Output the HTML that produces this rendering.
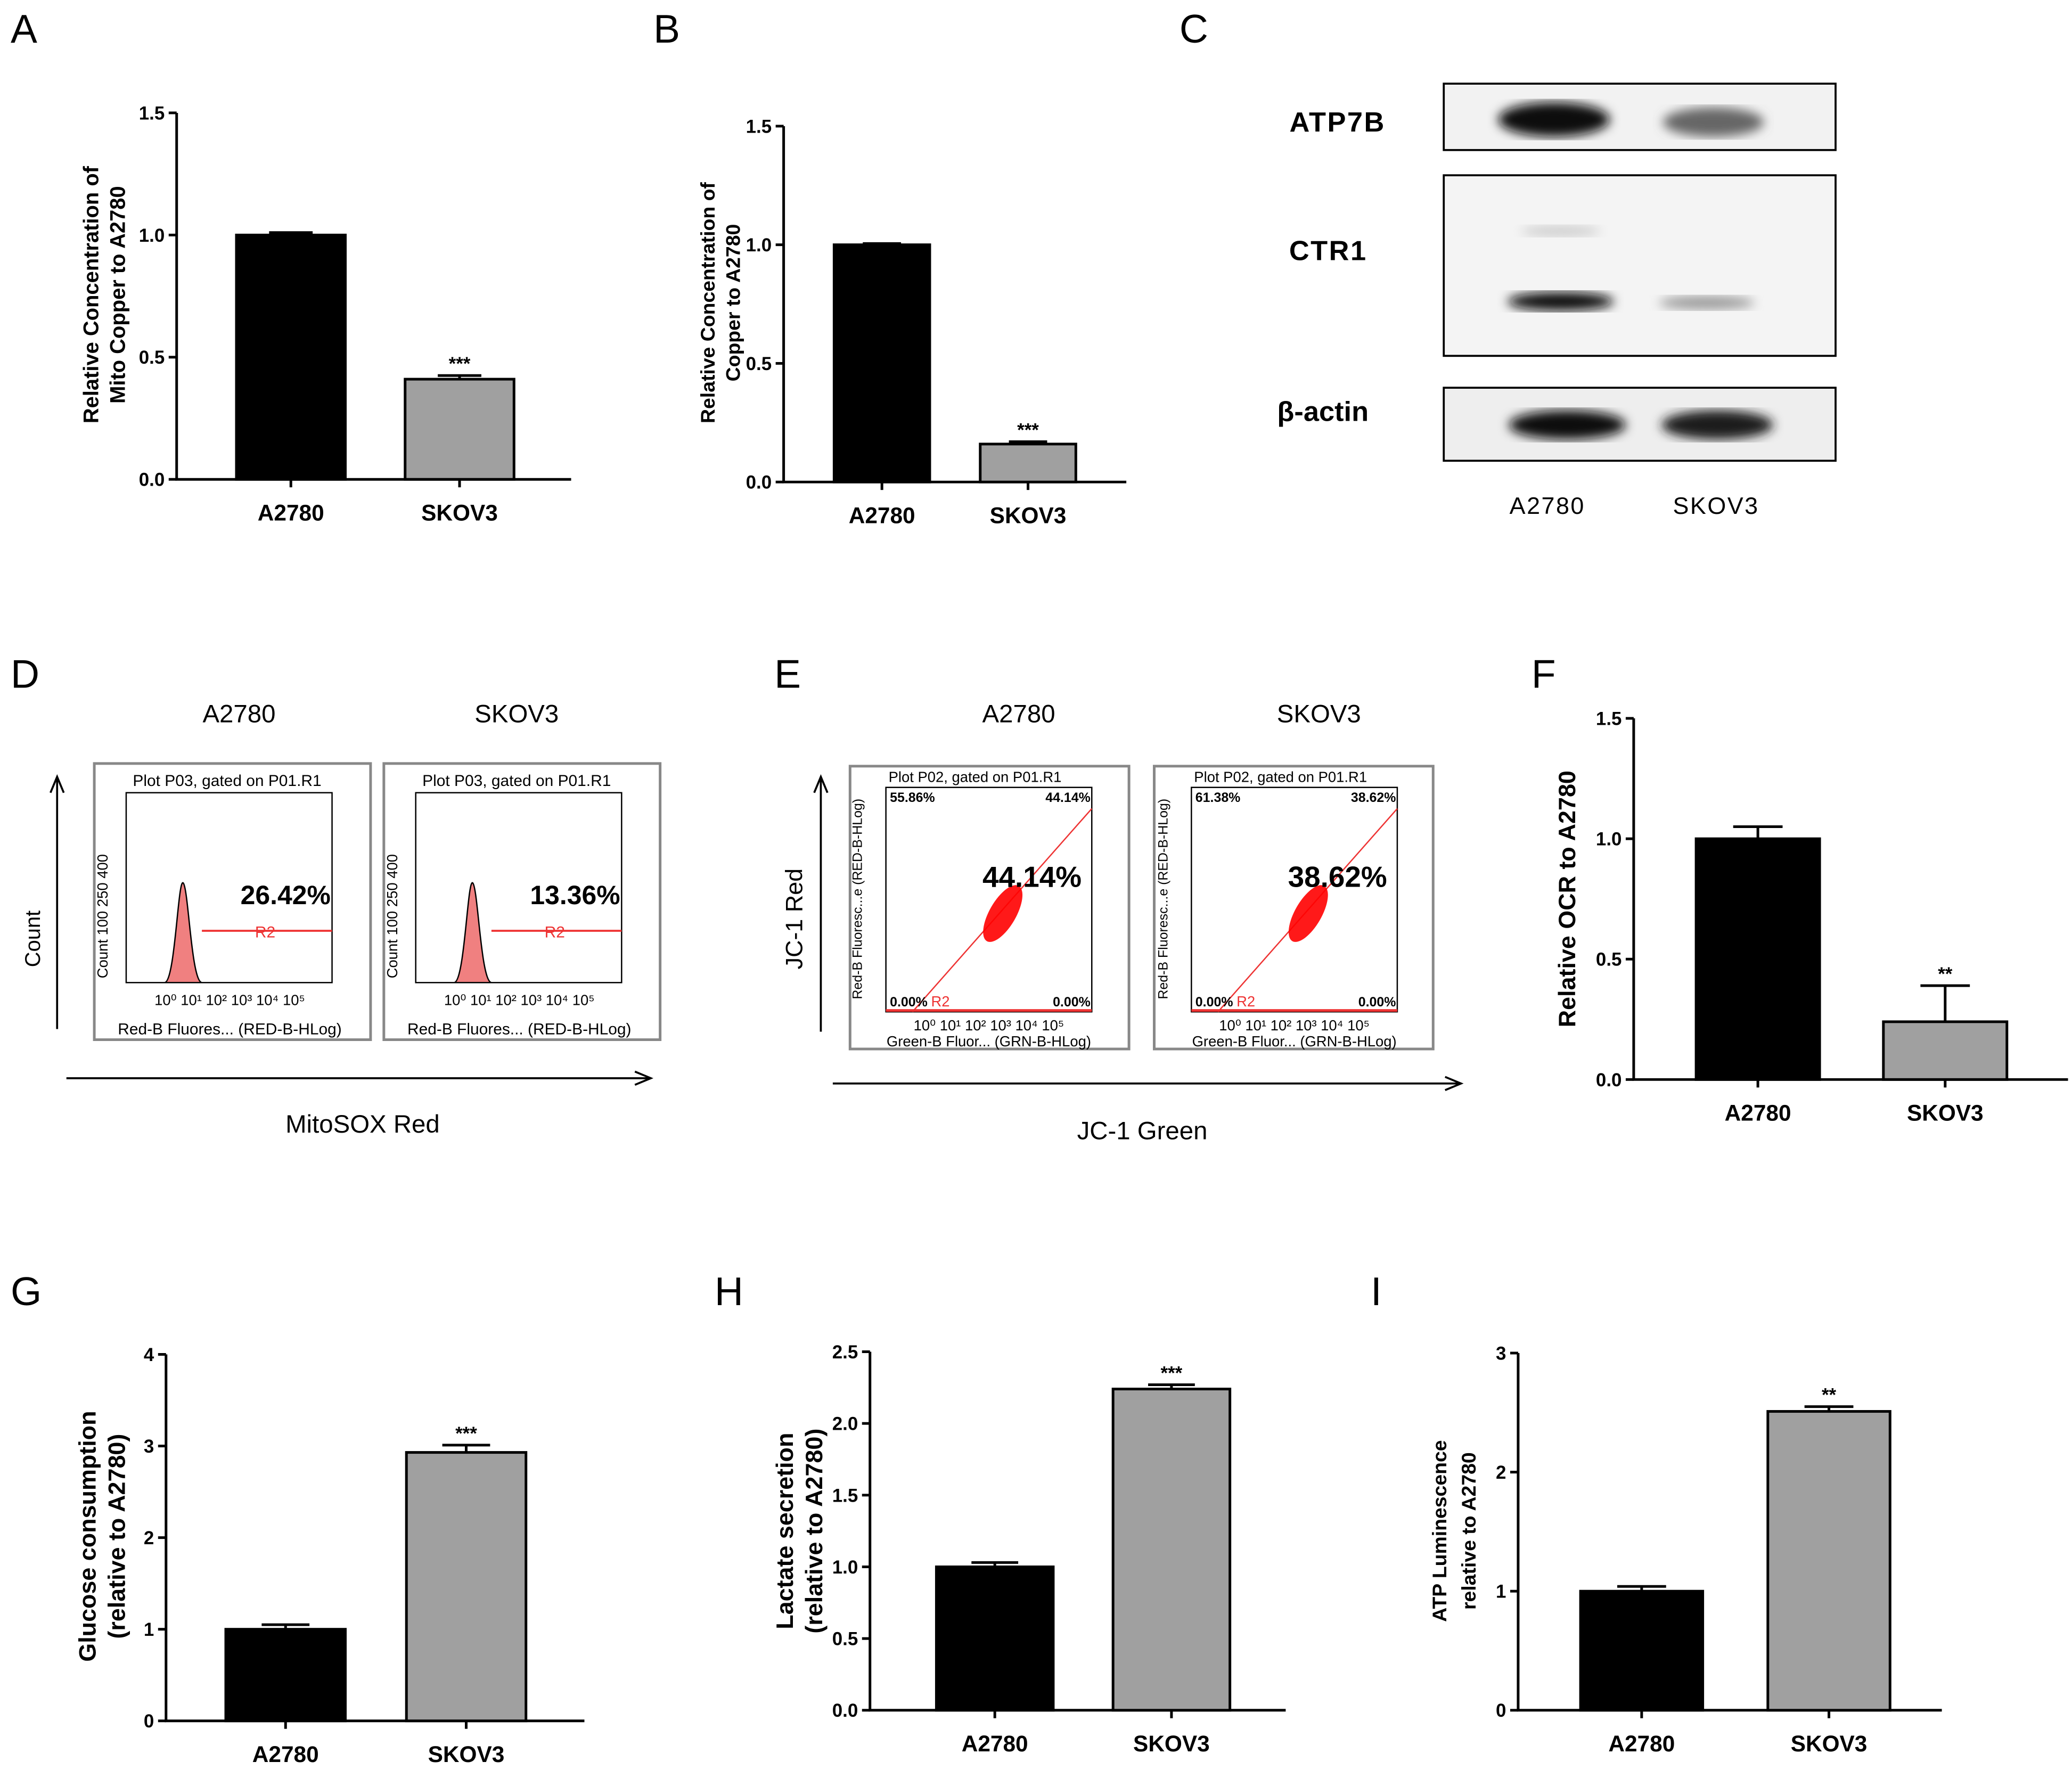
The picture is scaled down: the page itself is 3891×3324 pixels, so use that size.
<!DOCTYPE html>
<html><head><meta charset="utf-8"><style>
html,body{margin:0;padding:0;background:#fff}
svg{display:block}
text{font-family:"Liberation Sans",sans-serif}
</style></head><body>
<svg id="fig" xmlns="http://www.w3.org/2000/svg" width="3891" height="3324" viewBox="0 0 1560 1333" preserveAspectRatio="none">
<g font-size="30" font-family="Liberation Sans">
<text x="8" y="32">A</text>
<text x="492" y="32">B</text>
<text x="888" y="32">C</text>
<text x="8" y="518">D</text>
<text x="583" y="518">E</text>
<text x="1153" y="518">F</text>
<text x="8" y="983">G</text>
<text x="538" y="983">H</text>
<text x="1032" y="983">I</text>
</g>
<!-- Western blot C -->
<g>
<defs>
<filter id="blur"><feGaussianBlur stdDeviation="4"/></filter>
</defs>
<rect x="1087" y="63" width="295" height="50" fill="#f2f2f2" stroke="#000" stroke-width="1.5"/>
<ellipse cx="1170" cy="90" rx="42" ry="13" fill="#111" filter="url(#blur)"/>
<ellipse cx="1290" cy="92" rx="38" ry="11" fill="#666" filter="url(#blur)"/>
<rect x="1087" y="132" width="295" height="136" fill="#f4f4f4" stroke="#000" stroke-width="1.5"/>
<ellipse cx="1175" cy="227" rx="40" ry="7" fill="#111" filter="url(#blur)"/>
<ellipse cx="1285" cy="228" rx="36" ry="5" fill="#999" filter="url(#blur)"/>
<ellipse cx="1175" cy="174" rx="30" ry="4" fill="#ccc" filter="url(#blur)"/>
<rect x="1087" y="292" width="295" height="55" fill="#eee" stroke="#000" stroke-width="1.5"/>
<ellipse cx="1180" cy="320" rx="44" ry="11" fill="#111" filter="url(#blur)"/>
<ellipse cx="1293" cy="320" rx="42" ry="11" fill="#1a1a1a" filter="url(#blur)"/>
<text x="1007" y="99" font-size="21" text-anchor="middle" font-weight="bold" letter-spacing="1">ATP7B</text>
<text x="1000" y="196" font-size="21" text-anchor="middle" font-weight="bold" letter-spacing="1">CTR1</text>
<text x="996" y="317" font-size="21" text-anchor="middle" font-weight="bold">β-actin</text>
<text x="1165" y="387" font-size="18" text-anchor="middle" letter-spacing="1">A2780</text>
<text x="1292" y="387" font-size="18" text-anchor="middle" letter-spacing="1">SKOV3</text>
</g>
<g id="flow"></g>
<g id="charts"></g>
</svg>
<script>
// Chart data arrays
const categories = ["A2780","SKOV3"];
const aValues = [1.0, 0.41];
const aErrors = [0.01, 0.015];
const aTicks = ["0.0","0.5","1.0","1.5"];
const bValues = [1.0, 0.16];
const bErrors = [0.005, 0.01];
const bTicks = ["0.0","0.5","1.0","1.5"];
const fValues = [1.0, 0.24];
const fErrors = [0.05, 0.15];
const fTicks = ["0.0","0.5","1.0","1.5"];
const gValues = [1.0, 2.93];
const gErrors = [0.05, 0.08];
const gTicks = ["0","1","2","3","4"];
const hValues = [1.0, 2.24];
const hErrors = [0.03, 0.03];
const hTicks = ["0.0","0.5","1.0","1.5","2.0","2.5"];
const iValues = [1.0, 2.51];
const iErrors = [0.04, 0.04];
const iTicks = ["0","1","2","3"];
const sigLabels = ["***","***","**","***","***","**"];
const flowDPercents = ["26.42%","13.36%"];
const flowEPercents = ["44.14%","38.62%"];
const flowEQuadUL = ["55.86%","61.38%"];

const NS="http://www.w3.org/2000/svg";
function mk(parent,tag,attrs,txt){const e=document.createElementNS(NS,tag);for(const k in attrs)e.setAttribute(k,attrs[k]);if(txt!==undefined)e.textContent=txt;parent.appendChild(e);return e;}
const charts=document.getElementById('charts');

function barChart(cfg,values,errors,ticks,sig,name){
  const g=mk(charts,'g',{});
  
  
  const max=parseFloat(ticks[ticks.length-1]);
  const y=v=>cfg.y0-(v/max)*(cfg.y0-cfg.yTop);
  const ax=mk(g,'path',{d:`M${cfg.x0},${cfg.yTop}V${cfg.y0}H${cfg.xEnd}`,fill:'none',stroke:'#000','stroke-width':2});
  
  
  ticks.forEach(t=>{
    const yy=y(parseFloat(t));
    mk(g,'line',{x1:cfg.x0-6,x2:cfg.x0,y1:yy,y2:yy,stroke:'#000','stroke-width':2});
    const tl=mk(g,'text',{x:cfg.x0-9,y:yy+5,'font-size':cfg.fs||14,'text-anchor':'end','font-weight':'bold'},t);
    
    
  });
  values.forEach((v,i)=>{
    const x=cfg.bx[i], w=cfg.bw;
    const r=mk(g,'rect',{x:x,y:y(v),width:w,height:cfg.y0-y(v),fill:i===0?'#000':'#a0a0a0',stroke:'#000','stroke-width':2});
    
    
    const cx=x+w/2, ye=y(v+errors[i]);
    mk(g,'path',{d:`M${cx},${y(v)}V${ye}M${cx-w*0.2},${ye}H${cx+w*0.2}`,stroke:'#000','stroke-width':2,fill:'none'});
    mk(g,'line',{x1:cx,x2:cx,y1:cfg.y0,y2:cfg.y0+6,stroke:'#000','stroke-width':2});
    const cl=mk(g,'text',{x:cx,y:cfg.y0+31,'font-size':cfg.fs?cfg.fs+3:17,'text-anchor':'middle','font-weight':'bold'},categories[i]);
    
    
    if(i===1){
      const s=mk(g,'text',{x:cx,y:ye-4,'font-size':14,'text-anchor':'middle','font-weight':'bold'},sig);
      
      
    }
  });
  cfg.title.forEach((t,k)=>{
    const tx=cfg.tx+k*cfg.tlh;
    const tt=mk(g,'text',{x:tx,y:cfg.ty,'font-size':cfg.tfs,'text-anchor':'middle','font-weight':'bold',transform:`rotate(-90 ${tx} ${cfg.ty})`},t);
    
    
  });
}
barChart({x0:133,yTop:85,y0:361,xEnd:430,bx:[178,305],bw:82,tx:74,ty:222,tlh:20,tfs:16,title:["Relative Concentration of","Mito Copper to A2780"]},aValues,aErrors,aTicks,sigLabels[0],'chart-a');
barChart({x0:590,yTop:95,y0:363,xEnd:848,bx:[628,738],bw:72,tx:538,ty:228,tlh:19,tfs:15,title:["Relative Concentration of","Copper to A2780"]},bValues,bErrors,bTicks,sigLabels[1],'chart-b');
barChart({x0:1230,yTop:541,y0:813,xEnd:1557,bx:[1277,1418],bw:93,tx:1186,ty:677,tlh:22,tfs:18,title:["Relative OCR to A2780"]},fValues,fErrors,fTicks,sigLabels[2],'chart-f');
barChart({x0:125,yTop:1020,y0:1296,xEnd:440,bx:[170,306],bw:90,tx:72,ty:1157,tlh:22,tfs:18,title:["Glucose consumption","(relative to A2780)"]},gValues,gErrors,gTicks,sigLabels[3],'chart-g');
barChart({x0:655,yTop:1018,y0:1288,xEnd:968,bx:[705,838],bw:88,tx:597,ty:1153,tlh:22,tfs:18,title:["Lactate secretion","(relative to A2780)"]},hValues,hErrors,hTicks,sigLabels[4],'chart-h');
barChart({x0:1143,yTop:1019,y0:1288,xEnd:1462,bx:[1190,1331],bw:92,tx:1089,ty:1153,tlh:22,tfs:15,title:["ATP Luminescence","relative to A2780"]},iValues,iErrors,iTicks,sigLabels[5],'chart-i');

// Flow panels
const flow=document.getElementById('flow');
function txt(p,a,t,name){const e=mk(p,'text',a,t);return e;}
// D
txt(flow,{x:180,y:544,'font-size':19,'text-anchor':'middle'},categories[0],'d-title-a2780');
txt(flow,{x:389,y:544,'font-size':19,'text-anchor':'middle'},categories[1],'d-title-skov3');
mk(flow,'path',{d:'M43,775V587M38,597L43,585L48,597',stroke:'#000','stroke-width':1.5,fill:'none'});
mk(flow,'path',{d:'M50,812H488M478,807L490,812L478,817',stroke:'#000','stroke-width':1.5,fill:'none'});
txt(flow,{x:30,y:707,'font-size':16,'text-anchor':'middle',transform:'rotate(-90 30 707)'},'Count','d-y-title');
txt(flow,{x:273,y:853,'font-size':19,'text-anchor':'middle'},'MitoSOX Red','d-x-title');
[[71,95],[289,313]].forEach((b,i)=>{
  const [ox,ix]=b;
  mk(flow,'rect',{x:ox,y:575,width:208,height:208,fill:'#fff',stroke:'#888','stroke-width':2});
  mk(flow,'rect',{x:ix,y:597,width:155,height:143,fill:'#fff',stroke:'#000','stroke-width':1});
  txt(flow,{x:ix+5,y:592,'font-size':12},'Plot P03, gated on P01.R1','d-plot-title');
  const px=ix+43;
  mk(flow,'path',{d:`M${px-14},740 C${px-6},739 ${px-4},660 ${px},665 C${px+4},670 ${px+6},739 ${px+14},740Z`,fill:'#f08080',stroke:'#000','stroke-width':1});
  mk(flow,'line',{x1:px+14,x2:ix+155,y1:701,y2:701,stroke:'#e33','stroke-width':1.5});
  txt(flow,{x:ix+97,y:706,'font-size':12,fill:'#e33'},'R2','d-gate-label');
  txt(flow,{x:ix+120,y:681,'font-size':20,'font-weight':'bold','text-anchor':'middle'},flowDPercents[i],'d-percent');
  txt(flow,{x:ix-14,y:690,'font-size':11,'text-anchor':'middle',transform:`rotate(-90 ${ix-14} 690)`},'Count  100 250 400','d-count-axis');
  txt(flow,{x:ix+78,y:757,'font-size':11,'text-anchor':'middle'},'10⁰  10¹  10²  10³  10⁴  10⁵','d-x-ticks');
  txt(flow,{x:ix+78,y:779,'font-size':12,'text-anchor':'middle'},'Red-B Fluores... (RED-B-HLog)','d-x-axis-label');
});
// E
txt(flow,{x:767,y:544,'font-size':19,'text-anchor':'middle'},categories[0],'e-title-a2780');
txt(flow,{x:993,y:544,'font-size':19,'text-anchor':'middle'},categories[1],'e-title-skov3');
mk(flow,'path',{d:'M618,777V587M613,597L618,585L623,597',stroke:'#000','stroke-width':1.5,fill:'none'});
mk(flow,'path',{d:'M627,816H1098M1088,811L1100,816L1088,821',stroke:'#000','stroke-width':1.5,fill:'none'});
txt(flow,{x:604,y:692,'font-size':18,'text-anchor':'middle',transform:'rotate(-90 604 692)'},'JC-1 Red','e-y-title');
txt(flow,{x:860,y:858,'font-size':19,'text-anchor':'middle'},'JC-1 Green','e-x-title');
[[640,667],[869,897]].forEach((b,i)=>{
  const [ox,ix]=b;const w=155;
  mk(flow,'rect',{x:ox,y:577,width:210,height:213,fill:'#fff',stroke:'#888','stroke-width':2});
  mk(flow,'rect',{x:ix,y:593,width:w,height:169,fill:'#fff',stroke:'#000','stroke-width':1});
  txt(flow,{x:ix+2,y:589,'font-size':11},'Plot P02, gated on P01.R1','e-plot-title');
  mk(flow,'line',{x1:ix+20,y1:762,x2:ix+w,y2:609,stroke:'#e33','stroke-width':1});
  mk(flow,'line',{x1:ix,y1:761,x2:ix+w,y2:761,stroke:'#e33','stroke-width':2});
  mk(flow,'ellipse',{cx:ix+88,cy:688,rx:10,ry:24,fill:'#f00',transform:`rotate(30 ${ix+88} 688)`,opacity:0.9});
  txt(flow,{x:ix+110,y:668,'font-size':22,'font-weight':'bold','text-anchor':'middle'},flowEPercents[i],'e-percent');
  txt(flow,{x:ix+3,y:604,'font-size':10,'font-weight':'bold'},flowEQuadUL[i],'e-quad-ul');
  txt(flow,{x:ix+w-1,y:604,'font-size':10,'font-weight':'bold','text-anchor':'end'},flowEPercents[i],'e-quad-ur');
  txt(flow,{x:ix+3,y:758,'font-size':10,'font-weight':'bold'},'0.00%','e-quad-ll');
  txt(flow,{x:ix+w-1,y:758,'font-size':10,'font-weight':'bold','text-anchor':'end'},'0.00%','e-quad-lr');
  txt(flow,{x:ix+34,y:758,'font-size':11,fill:'#e33'},'R2','e-gate-label');
  txt(flow,{x:ix+w/2,y:776,'font-size':11,'text-anchor':'middle'},'10⁰   10¹   10²   10³   10⁴   10⁵','e-x-ticks');
  txt(flow,{x:ix+w/2,y:788,'font-size':11,'text-anchor':'middle'},'Green-B Fluor... (GRN-B-HLog)','e-x-axis-label');
  txt(flow,{x:ix-18,y:677,'font-size':10,'text-anchor':'middle',transform:`rotate(-90 ${ix-18} 677)`},'Red-B Fluoresc...e (RED-B-HLog)','e-y-axis-label');
});
</script>
</body></html>
